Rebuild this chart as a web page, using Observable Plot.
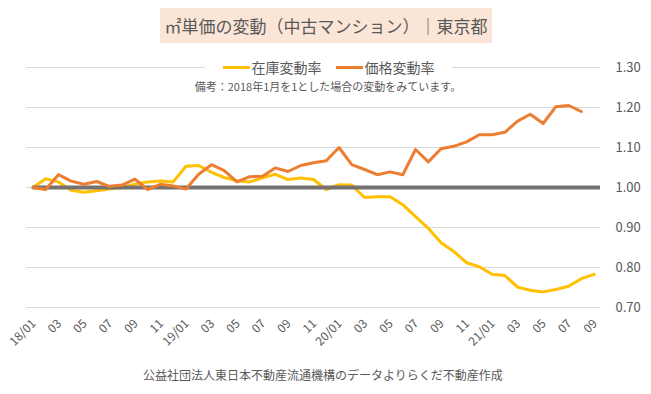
<!DOCTYPE html>
<html><head><meta charset="utf-8">
<script src="https://cdn.jsdelivr.net/npm/d3@7"></script>
<script src="https://cdn.jsdelivr.net/npm/@observablehq/plot@0.6"></script>
<style>
body{margin:0;background:#fff;font-family:"Noto Sans CJK JP","Noto Sans",sans-serif;}
#wrap{position:relative;width:651px;height:394px;overflow:hidden;background:#fff}
#chart{position:absolute;left:0;top:0}
#title{position:absolute;left:160px;top:8px;width:332px;height:35px;background:#FBE5D6;color:#595959;font-size:17px;line-height:35px;text-align:center;white-space:nowrap}
#legend{position:absolute;top:58px;left:205px;width:247px;height:19px;background:#fff;display:flex;align-items:center;justify-content:center;color:#595959;font-size:14px;line-height:19px;white-space:nowrap}
#legend .sw{display:inline-block;width:27px;height:3px;margin-right:2px}
#legend .it{display:flex;align-items:center;margin:0 7px}
#note{position:absolute;top:78px;left:150px;width:356px;text-align:center;color:#595959;font-size:11px;line-height:16px;white-space:nowrap}
#source{position:absolute;top:366px;left:100px;width:446px;text-align:center;color:#595959;font-size:12px;line-height:18px;white-space:nowrap}
</style></head>
<body>
<div id="wrap">
  <div id="chart"></div>
  <div id="title">㎡単価の変動（中古マンション）｜東京都</div>
  <div id="legend"></div>
  <div id="note">備考：2018年1月を1とした場合の変動をみています。</div>
  <div id="source">公益社団法人東日本不動産流通機構のデータよりらくだ不動産作成</div>
</div>
<script>
const months = ["18/01","18/02","18/03","18/04","18/05","18/06","18/07","18/08","18/09","18/10","18/11","18/12",
  "19/01","19/02","19/03","19/04","19/05","19/06","19/07","19/08","19/09","19/10","19/11","19/12",
  "20/01","20/02","20/03","20/04","20/05","20/06","20/07","20/08","20/09","20/10","20/11","20/12",
  "21/01","21/02","21/03","21/04","21/05","21/06","21/07","21/08","21/09"];
const tickLabels = ["18/01","03","05","07","09","11","19/01","03","05","07","09","11",
  "20/01","03","05","07","09","11","21/01","03","05","07","09"];
const seriesNames = ["在庫変動率","価格変動率"];
const seriesColors = ["#FFC000","#ED7D31"];
const stockRate = [1.000,1.022,1.014,0.993,0.988,0.992,0.996,1.000,1.008,1.014,
  1.016,1.014,1.053,1.055,1.038,1.025,1.017,1.014,1.024,1.033,
  1.020,1.024,1.020,0.995,1.007,1.006,0.975,0.977,0.977,0.957,
  0.927,0.898,0.862,0.840,0.812,0.802,0.783,0.780,0.751,0.743,
  0.739,0.745,0.753,0.772,0.783];
const priceRate = [1.000,0.995,1.032,1.016,1.008,1.015,1.003,1.006,1.021,0.995,
  1.008,1.004,0.996,1.033,1.057,1.042,1.014,1.027,1.028,1.049,
  1.040,1.055,1.062,1.067,1.100,1.057,1.045,1.032,1.039,1.032,
  1.095,1.064,1.097,1.103,1.114,1.132,1.132,1.138,1.166,1.183,
  1.160,1.202,1.205,1.190];
const yTicks = [0.70,0.80,0.90,1.00,1.10,1.20,1.30];
const baseline = 1.00;

const stockRows = stockRate.map((v,i)=>({i, month:months[i], v}));
const priceRows = priceRate.map((v,i)=>({i, month:months[i], v}));
const tickRows = tickLabels.map((label,k)=>({i:k*2, label}));
const n = months.length;

const plot = Plot.plot({
  width:651, height:394,
  marginLeft:26, marginRight:51, marginTop:67, marginBottom:87,
  style:{fontFamily:'"Noto Sans CJK JP","Noto Sans",sans-serif', background:"transparent", color:"#595959"},
  x:{domain:[-0.5, n-0.5], axis:null},
  y:{domain:[yTicks[0], yTicks[yTicks.length-1]], axis:null},
  marks:[
    Plot.gridY(yTicks,{stroke:"#D9D9D9", strokeOpacity:1, strokeWidth:1}),
    Plot.axisY(yTicks,{anchor:"right", label:null, tickSize:0, tickPadding:15, tickFormat:d=>d.toFixed(2), fontSize:13, color:"#595959"}),
    Plot.lineY(stockRows,{x:"i", y:"v", stroke:seriesColors[0], strokeWidth:3, strokeLinejoin:"round", strokeLinecap:"round"}),
    Plot.ruleY([baseline],{x1:0, x2:n-0.5, stroke:"#767171", strokeWidth:4}),
    Plot.lineY(priceRows,{x:"i", y:"v", stroke:seriesColors[1], strokeWidth:3, strokeLinejoin:"round", strokeLinecap:"round"}),
    Plot.text(tickRows,{x:"i", y:()=>yTicks[0], text:"label", rotate:-45, textAnchor:"end", dy:14, dx:1, fontSize:12, fill:"#595959"})
  ]
});
document.getElementById("chart").appendChild(plot);

const lg = document.getElementById("legend");
seriesNames.forEach((name,k)=>{
  const it = document.createElement("span"); it.className="it";
  const sw = document.createElement("span"); sw.className="sw"; sw.style.background=seriesColors[k];
  const tx = document.createElement("span"); tx.textContent=name;
  it.appendChild(sw); it.appendChild(tx); lg.appendChild(it);
});
</script>
</body></html>
